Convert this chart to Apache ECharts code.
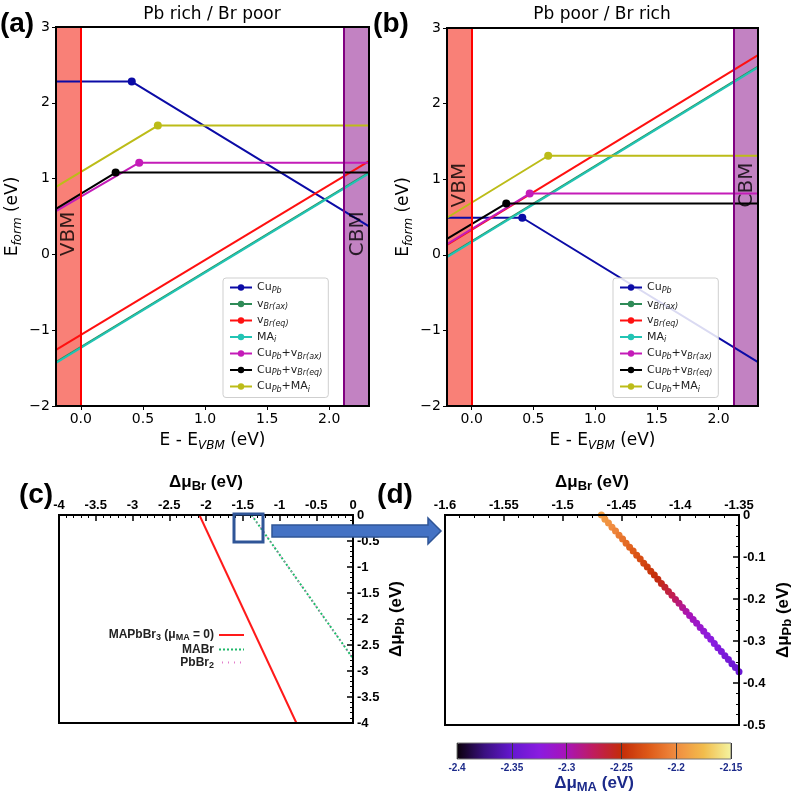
<!DOCTYPE html>
<html><head><meta charset="utf-8">
<script src="https://cdn.jsdelivr.net/npm/echarts@6/dist/echarts.min.js"></script>
<style>html,body{margin:0;padding:0;background:#fff}#c{width:795px;height:796px}</style>
</head><body><div id="c"></div>
<script>
// ---------- DATA ----------
// Panels (a)/(b): x = E - E_VBM (eV), y = E_form (eV)
const defectNames = ['CuPb','vBr(ax)','vBr(eq)','MAi','CuPb+vBr(ax)','CuPb+vBr(eq)','CuPb+MAi'];
const xTicksTop = [0, 0.5, 1.0, 1.5, 2.0];
const vbmBand = [-0.2, 0];
const cbmBand = [2.12, 2.32];
// (a) Pb rich / Br poor
const a_CuPb       = [[-0.2, 2.28], [0.41, 2.28], [2.32, 0.37]];
const a_vBrAx      = [[-0.2, -1.42], [2.32, 1.08]];
const a_vBrEq      = [[-0.2, -1.26], [2.32, 1.23]];
const a_MAi        = [[-0.2, -1.43], [2.32, 1.07]];
const a_CuPbvBrAx  = [[-0.2, 0.57], [0.47, 1.21], [2.32, 1.21]];
const a_CuPbvBrEq  = [[-0.2, 0.60], [0.28, 1.08], [2.32, 1.08]];
const a_CuPbMAi    = [[-0.2, 0.89], [0.62, 1.70], [2.32, 1.70]];
// (b) Pb poor / Br rich
const b_CuPb       = [[-0.2, 0.49], [0.41, 0.49], [2.32, -1.42]];
const b_vBrAx      = [[-0.2, -0.02], [2.32, 2.49]];
const b_vBrEq      = [[-0.2, 0.13], [2.32, 2.64]];
const b_MAi        = [[-0.2, -0.03], [2.32, 2.48]];
const b_CuPbvBrAx  = [[-0.2, 0.14], [0.47, 0.81], [2.32, 0.81]];
const b_CuPbvBrEq  = [[-0.2, 0.21], [0.28, 0.68], [2.32, 0.68]];
const b_CuPbMAi    = [[-0.2, 0.49], [0.62, 1.31], [2.32, 1.31]];
// band label anchor heights (E_form) for VBM/CBM text
const bandLabelY = [-0.03, 0.62];
const bandLabelX = [-0.09, 2.23];

// Panel (c): x = Δμ_Br, y = Δμ_Pb
const c_MAPbBr3 = [[-2.09, 0], [-0.77, -4]];
const c_MABr    = [[-1.38, 0], [0, -2.76]];
const c_PbBr2   = [[-1.38, 0], [0, -2.76]];

// Panel (d): [Δμ_Br, Δμ_Pb, Δμ_MA]
const d_stable = [
 [-1.467,0.000,-2.190],[-1.464,-0.010,-2.193],[-1.461,-0.019,-2.197],[-1.458,-0.029,-2.200],
 [-1.455,-0.038,-2.204],[-1.452,-0.048,-2.208],[-1.449,-0.057,-2.212],[-1.446,-0.067,-2.216],
 [-1.443,-0.077,-2.220],[-1.440,-0.086,-2.224],[-1.437,-0.096,-2.228],[-1.434,-0.105,-2.232],
 [-1.431,-0.115,-2.236],[-1.428,-0.124,-2.240],[-1.425,-0.134,-2.244],[-1.422,-0.143,-2.248],
 [-1.419,-0.153,-2.252],[-1.416,-0.163,-2.256],[-1.413,-0.172,-2.261],[-1.410,-0.182,-2.266],
 [-1.407,-0.191,-2.271],[-1.404,-0.201,-2.277],[-1.401,-0.210,-2.283],[-1.398,-0.220,-2.289],
 [-1.395,-0.230,-2.295],[-1.392,-0.239,-2.300],[-1.389,-0.249,-2.305],[-1.386,-0.258,-2.309],
 [-1.383,-0.268,-2.313],[-1.380,-0.277,-2.317],[-1.377,-0.287,-2.321],[-1.374,-0.296,-2.324],
 [-1.371,-0.306,-2.327],[-1.368,-0.316,-2.330],[-1.365,-0.325,-2.333],[-1.362,-0.335,-2.336],
 [-1.359,-0.344,-2.339],[-1.356,-0.354,-2.342],[-1.353,-0.363,-2.344],[-1.350,-0.373,-2.346]
];
const muMARange = [-2.4, -2.15];

// ---------- STYLE ----------
const defectColors = ['#0b0ba6','#2e8b57','#ff1010','#22c4b4','#c41cb8','#000000','#bcbc18'];
const inferno = ['#0a000a','#3a1080','#6418d0','#8a1ce0','#a814b8','#c01c5c','#c42c08','#de5a18','#f08c40','#f2bc4c','#f4f4a0'];
const DJ = 'DejaVu Sans', LS = 'Liberation Sans';

const chart = echarts.init(document.getElementById('c'), null, {renderer:'canvas'});

function defectSeries(name, pts, g, color){
  return {type:'line', name, xAxisIndex:g, yAxisIndex:g, z:3, animation:false,
    symbol:'circle', symbolSize:8, showSymbol:true,
    lineStyle:{width:2, color}, itemStyle:{color},
    data: pts.map((p,i)=> (pts.length===3 && i===1) ? {value:p} : {value:p, symbol:'none'})};
}
function bandSeries(g){
  return {type:'line', name:'band'+g, xAxisIndex:g, yAxisIndex:g, z:1, silent:true, data:[], animation:false,
    markArea:{silent:true, data:[
      [{xAxis:vbmBand[0], itemStyle:{color:'#f98077'}},{xAxis:vbmBand[1]}],
      [{xAxis:cbmBand[0], itemStyle:{color:'#c282c2'}},{xAxis:cbmBand[1]}]]},
    markLine:{silent:true, symbol:'none', label:{show:false}, animation:false, data:[
      {xAxis:0, lineStyle:{color:'#ff0000', width:2, type:'solid'}},
      {xAxis:cbmBand[0], lineStyle:{color:'#800080', width:2, type:'solid'}}]}};
}
function bandLabels(g, y){
  const lab = {show:true, position:[0,0], rotate:90, align:'left', verticalAlign:'middle',
    fontFamily:DJ, fontSize:20, color:'#000'};
  return {type:'scatter', xAxisIndex:g, yAxisIndex:g, z:4, silent:true, symbolSize:1,
    itemStyle:{color:'rgba(0,0,0,0)'}, animation:false,
    data:[{value:[bandLabelX[0], y], label:Object.assign({}, lab, {formatter:'VBM'})},
          {value:[bandLabelX[1], y], label:Object.assign({}, lab, {formatter:'CBM'})}]};
}

const topRich = {
  n:{fontSize:17, fontFamily:DJ, color:'#000', lineHeight:22},
  s:{fontSize:12, fontFamily:DJ, fontStyle:'italic', color:'#000', verticalAlign:'bottom', lineHeight:12}
};
const minusFmt = v => v < 0 ? '\u2212' + Math.abs(v) : String(v);
function topX(g){
  return {type:'value', gridIndex:g, min:-0.2, max:2.32, position:'bottom',
    axisLine:{show:false, onZero:false}, splitLine:{show:false},
    axisTick:{show:true, customValues:xTicksTop, length:4, lineStyle:{color:'#000', width:1}},
    axisLabel:{customValues:xTicksTop, formatter:v=>v.toFixed(1), color:'#000', fontSize:14, fontFamily:DJ, margin:6},
    name:'{n|E - E}{s|VBM}{n| (eV)}', nameLocation:'middle', nameGap:24, nameTextStyle:{rich:topRich}};
}
function topY(g){
  return {type:'value', gridIndex:g, min:-2, max:3, interval:1,
    axisLine:{show:false, onZero:false}, splitLine:{show:false},
    axisTick:{show:true, length:4, lineStyle:{color:'#000', width:1}},
    axisLabel:{formatter:minusFmt, color:'#000', fontSize:14, fontFamily:DJ, margin:6},
    name:'{n|E}{s|form}{n| (eV)}', nameLocation:'middle', nameGap:32, nameTextStyle:{rich:topRich}};
}

const legRich = {
  n:{fontSize:11, fontFamily:DJ, color:'#222', lineHeight:14},
  s:{fontSize:8, fontFamily:DJ, fontStyle:'italic', color:'#222', verticalAlign:'bottom', lineHeight:8}
};
const legText = {
  'CuPb':'{n|Cu}{s|Pb}', 'vBr(ax)':'{n|v}{s|Br(ax)}', 'vBr(eq)':'{n|v}{s|Br(eq)}', 'MAi':'{n|MA}{s|i}',
  'CuPb+vBr(ax)':'{n|Cu}{s|Pb}{n|+v}{s|Br(ax)}', 'CuPb+vBr(eq)':'{n|Cu}{s|Pb}{n|+v}{s|Br(eq)}',
  'CuPb+MAi':'{n|Cu}{s|Pb}{n|+MA}{s|i}'
};
function topLegend(left){
  return {data:defectNames, orient:'vertical', left, top:278, itemWidth:22, itemHeight:8, itemGap:4,
    padding:[4,6,4,6], borderColor:'#cfcfcf', borderWidth:1, borderRadius:3, backgroundColor:'rgba(255,255,255,0.85)',
    selectedMode:false, formatter:n=>legText[n], textStyle:{rich:legRich}};
}

const botRich = {
  d:{fontSize:17, fontFamily:LS, fontWeight:'bold', color:'#000', lineHeight:22},
  s:{fontSize:13, fontFamily:LS, fontWeight:'bold', color:'#000', verticalAlign:'bottom', lineHeight:10}
};
const cbRich = {
  d:{fontSize:17, fontFamily:LS, fontWeight:'bold', color:'#1c2a8a', lineHeight:22},
  s:{fontSize:13, fontFamily:LS, fontWeight:'bold', color:'#1c2a8a', verticalAlign:'bottom', lineHeight:10}
};
const botLabel = {color:'#000', fontSize:13, fontFamily:LS, fontWeight:'bold'};
function botX(g, min, max, interval, minorSplit){
  return {type:'value', gridIndex:g, min, max, interval, position:'top',
    axisLine:{show:false, onZero:false}, splitLine:{show:false},
    axisTick:{show:true, inside:true, length:6, lineStyle:{color:'#000', width:1.5}},
    minorTick:{show:true, splitNumber:minorSplit, length:3, lineStyle:{color:'#000', width:1}},
    axisLabel:Object.assign({margin:3}, botLabel),
    name:'{d|\u0394\u03bc}{s|Br}{d| (eV)}', nameLocation:'middle', nameGap:22, nameTextStyle:{rich:botRich}};
}
function botY(g, min, max, interval, minorSplit, gap){
  return {type:'value', gridIndex:g, min, max, interval, position:'right',
    axisLine:{show:false, onZero:false}, splitLine:{show:false},
    axisTick:{show:true, inside:true, length:6, lineStyle:{color:'#000', width:1.5}},
    minorTick:{show:true, splitNumber:minorSplit, length:3, lineStyle:{color:'#000', width:1}},
    axisLabel:Object.assign({margin:4, align:'left'}, botLabel),
    name:'{d|\u0394\u03bc}{s|Pb}{d| (eV)}', nameLocation:'middle', nameGap:gap, nameTextStyle:{rich:botRich}};
}

const cLegRich = {
  b:{fontSize:12, fontFamily:LS, fontWeight:'bold', color:'#222', lineHeight:15},
  s:{fontSize:9, fontFamily:LS, fontWeight:'bold', color:'#222', verticalAlign:'bottom', lineHeight:9}
};
const cLegText = {
  'MAPbBr3':'{b|MAPbBr}{s|3}{b| (\u03bc}{s|MA}{b| = 0)}',
  'MABr':'{b|MABr}',
  'PbBr2':'{b|PbBr}{s|2}'
};

const series = [];
series.push(bandSeries(0), bandSeries(1));
const aSets = [a_CuPb,a_vBrAx,a_vBrEq,a_MAi,a_CuPbvBrAx,a_CuPbvBrEq,a_CuPbMAi];
const bSets = [b_CuPb,b_vBrAx,b_vBrEq,b_MAi,b_CuPbvBrAx,b_CuPbvBrEq,b_CuPbMAi];
aSets.forEach((d,i)=>series.push(defectSeries(defectNames[i], d, 0, defectColors[i])));
bSets.forEach((d,i)=>series.push(defectSeries(defectNames[i], d, 1, defectColors[i])));
series.push(bandLabels(0, bandLabelY[0]), bandLabels(1, bandLabelY[1]));
series.push({type:'line', name:'MAPbBr3', xAxisIndex:2, yAxisIndex:2, symbol:'none', z:3, data:c_MAPbBr3,
  lineStyle:{color:'#ff1a1a', width:2}, itemStyle:{color:'#ff1a1a'}, animation:false});
series.push({type:'line', name:'MABr', xAxisIndex:2, yAxisIndex:2, symbol:'none', z:3, data:c_MABr,
  lineStyle:{color:'#1fb86a', width:2, type:[2,2]}, itemStyle:{color:'#1fb86a'}, animation:false});
series.push({type:'line', name:'PbBr2', xAxisIndex:2, yAxisIndex:2, symbol:'none', z:3, data:c_PbBr2,
  lineStyle:{color:'#e37ccb', width:1.5, type:[1,5], dashOffset:3}, itemStyle:{color:'#e37ccb'}, animation:false});
const scatterIdx = series.length;
series.push({type:'scatter', name:'stable', xAxisIndex:3, yAxisIndex:3, symbolSize:7, z:3, data:d_stable,
  itemStyle:{opacity:1}, encode:{x:0, y:1}, animation:false});

const gridBase = {show:true, borderColor:'#000', borderWidth:2, backgroundColor:'transparent', z:10, outerBoundsMode:'none', containLabel:false};
const option = {
  backgroundColor:'#fff',
  animation:false,
  grid:[
    Object.assign({left:56, top:27, width:313, height:379}, gridBase),
    Object.assign({left:447, top:28, width:311, height:378}, gridBase),
    Object.assign({left:59, top:515, width:294, height:208}, gridBase),
    Object.assign({left:445, top:515, width:294, height:210}, gridBase),
    Object.assign({}, gridBase, {left:457, top:743, width:274, height:16, borderColor:'#777', borderWidth:1})
  ],
  xAxis:[ topX(0), topX(1), botX(2,-4,0,0.5,5), botX(3,-1.6,-1.35,0.05,4),
    {type:'value', gridIndex:4, min:muMARange[0], max:muMARange[1], interval:0.05, z:10,
     axisLine:{show:false, onZero:false}, axisTick:{show:false},
     splitLine:{show:true, lineStyle:{color:'#3a3a3a', width:1}},
     axisLabel:{color:'#1c2a8a', fontSize:10, fontWeight:'bold', fontFamily:LS, margin:4, formatter:v=>String(+v.toFixed(2))},
     name:'{d|\u0394\u03bc}{s|MA}{d| (eV)}', nameLocation:'middle', nameGap:13, nameTextStyle:{rich:cbRich}} ],
  yAxis:[ topY(0), topY(1), botY(2,-4,0,0.5,5,32), botY(3,-0.5,0,0.1,4,33),
    {type:'value', gridIndex:4, min:0, max:1, show:false} ],
  legend:[ topLegend(223), topLegend(613),
    {data:['MAPbBr3','MABr','PbBr2'], orient:'vertical', align:'right', right:550, top:629,
     itemWidth:25, itemHeight:8, itemGap:1, padding:0, selectedMode:false,
     itemStyle:{opacity:0}, formatter:n=>cLegText[n], textStyle:{rich:cLegRich}} ],
  visualMap:[{type:'continuous', min:muMARange[0], max:muMARange[1], dimension:2, seriesIndex:scatterIdx,
    orient:'horizontal', left:457, top:743, itemWidth:16, itemHeight:274, padding:0,
    calculable:false, text:null, hoverLink:false, inRange:{color:inferno}}],
  graphic:[
    {type:'text', x:212, y:15, style:{text:'Pb rich / Br poor', fontFamily:DJ, fontSize:17, fill:'#000', align:'center', verticalAlign:'middle'}},
    {type:'text', x:602, y:15, style:{text:'Pb poor / Br rich', fontFamily:DJ, fontSize:17, fill:'#000', align:'center', verticalAlign:'middle'}},
    {type:'text', x:17, y:24, style:{text:'(a)', fontFamily:LS, fontWeight:'bold', fontSize:28, fill:'#000', align:'center', verticalAlign:'middle'}},
    {type:'text', x:391, y:24, style:{text:'(b)', fontFamily:LS, fontWeight:'bold', fontSize:28, fill:'#000', align:'center', verticalAlign:'middle'}},
    {type:'text', x:36, y:495, style:{text:'(c)', fontFamily:LS, fontWeight:'bold', fontSize:28, fill:'#000', align:'center', verticalAlign:'middle'}},
    {type:'text', x:395, y:495, style:{text:'(d)', fontFamily:LS, fontWeight:'bold', fontSize:28, fill:'#000', align:'center', verticalAlign:'middle'}},
    {type:'rect', z:100, shape:{x:234, y:514, width:29, height:28}, style:{fill:'none', stroke:'#2f5597', lineWidth:3}},
    {type:'polygon', z:100, shape:{points:[[272,525],[428,525],[428,518],[441,531],[428,544],[428,537],[272,537]]},
     style:{fill:'#4472c4', stroke:'#2f5597', lineWidth:1.5}}
  ],
  series
};
chart.setOption(option);
</script></body></html>
